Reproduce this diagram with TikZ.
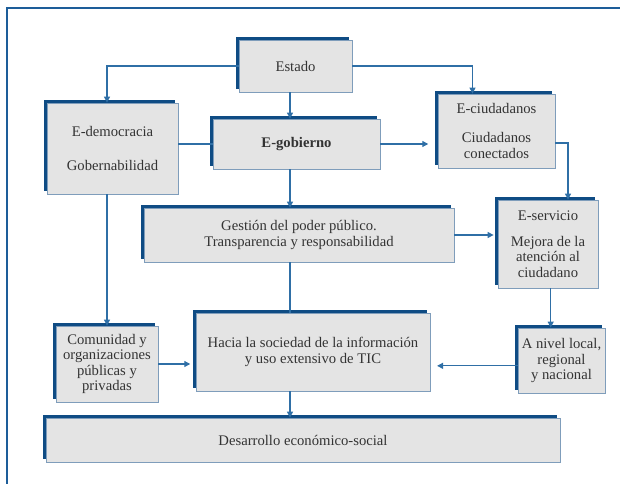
\documentclass[tikz,border=0pt]{standalone}
\usepackage{fontspec}
\setmainfont{Liberation Serif}
\usetikzlibrary{arrows.meta,shadows}
\definecolor{frameblue}{HTML}{1D5D99}
\definecolor{boxdark}{HTML}{0F4C84}
\definecolor{boxedge}{HTML}{7F9DBB}
\definecolor{boxfill}{HTML}{E4E4E4}
\definecolor{linkblue}{HTML}{2F6FA6}
\tikzset{
    block/.style = {
        draw = boxedge,
        fill = boxfill,
        line width = 0.6pt,
        inner sep = 0pt,
        align = center,
        text = black!80,
        font = \fontsize{11}{11.6}\selectfont,
        general shadow = {fill=boxdark, shadow xshift=-2.6pt, shadow yshift=2pt},
        },
    link/.style = {
        draw = linkblue,
        line width = 0.9pt,
        },
    to box/.style = {
        link,
        -{Triangle[width=4.5pt,length=4.5pt]},
        },
}

\begin{document}
\begin{tikzpicture}[x=0.75pt, y=-0.75pt]
            \useasboundingbox (0,0) rectangle (620,484);
            \draw[frameblue, line width=2.2pt] (7,484) -- (7,8) -- (620,8);

            \node[block, minimum width=84.75pt, minimum height=39pt] (Estado) at (295.5,66) {Estado};
            \node[block, minimum width=98.25pt, minimum height=68.25pt] (Edem) at (112.5,148.5) {E-democracia\\[1.3em] Gobernabilidad};
            \node[block, minimum width=125.25pt, minimum height=37.5pt] (Egob) at (296.5,144) {\textbf{E-gobierno}};
            \node[block, minimum width=87.75pt, minimum height=55.5pt] (Eciud) at (496.5,131) {E-ciudadanos\\[0.9em] Ciudadanos\\ conectados};
            \node[block, minimum width=232.5pt, minimum height=40.5pt] (Gestion) at (299,235) {Gestión del poder público.\\ Transparencia y responsabilidad};
            \node[block, minimum width=75pt, minimum height=66pt] (Eserv) at (548,244) {E-servicio\\[0.7em] Mejora de la\\ atención al\\ ciudadano};
            \node[block, minimum width=76.5pt, minimum height=57pt] (Comun) at (107,364) {Comunidad y\\ organizaciones\\ públicas y\\ privadas};
            \node[block, minimum width=175.5pt, minimum height=58.5pt] (Hacia) at (313,352) {Hacia la sociedad de la información\\ y uso extensivo de TIC};
            \node[block, minimum width=65.25pt, minimum height=48.75pt] (Anivel) at (561.5,360.5) {A nivel local,\\ regional\\ y nacional};
            \node[block, minimum width=385.5pt, minimum height=33pt] (Desarr) at (303,440) {Desarrollo económico-social};

            % vertical spine through the middle
            \coordinate (spine) at (290,0);

            \draw[to box] (Estado.west) -| (Edem.north -| Comun.north);
            \draw[to box] (Estado.east) -| ([xshift=-18pt]Eciud.north);
            \draw[to box] (Estado.south -| spine) -- (Egob.north -| spine);
            \draw[link] (Egob.west -| Edem.east) -- (Egob.west);
            \draw[to box, shorten >=7pt] (Egob.east) -- (Egob.east -| Eciud.west);
            \draw[to box] (Egob.south -| spine) -- (Gestion.north -| spine);
            \draw[to box] ([yshift=-9pt]Eciud.east) -| ([xshift=15pt]Eserv.north);
            \draw[to box, shorten >=3pt] (Gestion.east) -- (Gestion.east -| Eserv.west);
            \draw[link] (Gestion.south -| spine) -- (Hacia.north -| spine);
            \draw[to box] (Edem.south -| Comun.north) -- (Comun.north);
            \draw[to box, shorten >=4pt] (Comun.east) -- (Comun.east -| Hacia.west);
            \draw[to box] (Hacia.south -| spine) -- (Desarr.north -| spine);
            \draw[to box] ([xshift=2pt]Eserv.south) -- ([xshift=2pt]Eserv.south |- Anivel.north);
            \draw[to box, shorten >=5pt] ([yshift=-4pt]Anivel.west) -- ([yshift=-4pt]Anivel.west -| Hacia.east);
        \end{tikzpicture}
\end{document}
